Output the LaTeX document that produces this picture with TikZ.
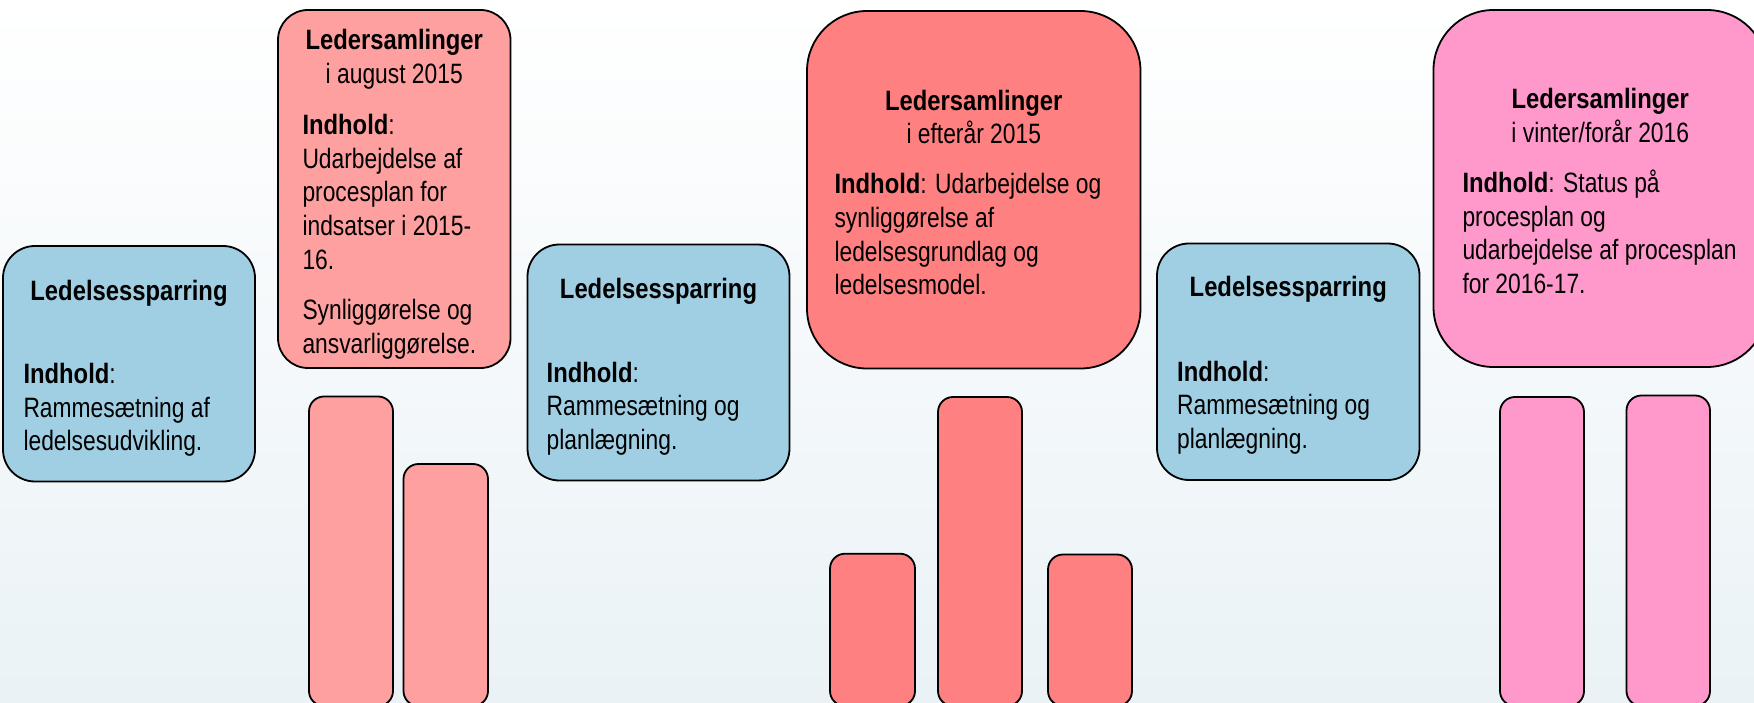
\documentclass[tikz,border=0pt]{standalone}
\usepackage{fontspec}
\setmainfont[UprightFeatures={FakeStretch=0.815},
             BoldFeatures={FakeStretch=0.85}]{Liberation Sans}
\usetikzlibrary{positioning}
\definecolor{BlaaBoks}{HTML}{A0CFE4}
\definecolor{LaksRoed}{HTML}{FFA0A0}
\definecolor{KlarRoed}{HTML}{FF8080}
\definecolor{Rosa}{HTML}{FF99CC}
\definecolor{BundBlaa}{HTML}{EAF2F6}

\begin{document}
\begin{tikzpicture}[x=1pt,y=-1pt,
    boks/.style={draw=black, line width=1.8pt, inner sep=0pt},
    soejle/.style={draw=black, line width=1.8pt, rounded corners=15pt},
    overskrift/.style={font=\fontsize{28}{33.6}\selectfont, anchor=base,
        align=center, inner sep=0pt},
    brodtekst/.style={font=\fontsize{28}{33.6}\selectfont, anchor=base west,
        align=left, inner sep=0pt}
]
% baggrund
\fill[top color=white, bottom color=BundBlaa] (0,0) rectangle (1754,703);
\useasboundingbox (0,0) rectangle (1754,703);

% ledelsessparring 1 (tekst placeres ved sidste linjes grundlinje)
\node[boks, fill=BlaaBoks, rounded corners=32pt,
      minimum width=252pt, minimum height=235.5pt] (sparring1) at (129,363.75) {};
\node[overskrift] (sparring1titel) at (129,301) {\textbf{Ledelsessparring}};
\node[brodtekst] (sparring1tekst) at (23.3,450.7)
    {\textbf{Indhold}:\\Rammesætning af\\ledelsesudvikling.};

% ledersamlinger august 2015
\node[boks, fill=LaksRoed, rounded corners=30pt,
      minimum width=232.5pt, minimum height=358pt] (samling1) at (394.25,189) {};
\node[overskrift] (samling1titel) at (394.25,83.6)
    {\textbf{Ledersamlinger}\\i august 2015};
\node[brodtekst] (samling1tekst) at (302.3,353.2)
    {\textbf{Indhold}:\\Udarbejdelse af\\procesplan for\\indsatser i 2015-\\16.\\[17pt]
     Synliggørelse og\\ansvarliggørelse.};
\draw[soejle, fill=LaksRoed] (309,396.5) rectangle (393,706);
\draw[soejle, fill=LaksRoed] (403.5,464) rectangle (488,706);

% ledelsessparring 2
\node[boks, fill=BlaaBoks, rounded corners=32pt,
      minimum width=262pt, minimum height=236pt] (sparring2) at (658.5,362.5) {};
\node[overskrift] (sparring2titel) at (658.5,299) {\textbf{Ledelsessparring}};
\node[brodtekst] (sparring2tekst) at (546.5,449.2)
    {\textbf{Indhold}:\\Rammesætning og\\planlægning.};

% ledersamlinger efteraar 2015
\node[boks, fill=KlarRoed, rounded corners=60pt,
      minimum width=333.5pt, minimum height=357.5pt] (samling2) at (973.75,189.75) {};
\node[overskrift] (samling2titel) at (973.75,144)
    {\textbf{Ledersamlinger}\\i efterår 2015};
\node[brodtekst] (samling2tekst) at (834.3,294.8)
    {\textbf{Indhold}: Udarbejdelse og\\synliggørelse af\\ledelsesgrundlag og\\ledelsesmodel.};
\draw[soejle, fill=KlarRoed] (830,553.7) rectangle (915,706);
\draw[soejle, fill=KlarRoed] (938,397) rectangle (1022,706);
\draw[soejle, fill=KlarRoed] (1048,554.5) rectangle (1132,706);

% ledelsessparring 3
\node[boks, fill=BlaaBoks, rounded corners=32pt,
      minimum width=262.5pt, minimum height=236.5pt] (sparring3) at (1288.25,361.75) {};
\node[overskrift] (sparring3titel) at (1288.25,297) {\textbf{Ledelsessparring}};
\node[brodtekst] (sparring3tekst) at (1177,448.2)
    {\textbf{Indhold}:\\Rammesætning og\\planlægning.};

% ledersamlinger vinter/foraar 2016
\node[boks, fill=Rosa, rounded corners=60pt,
      minimum width=333.5pt, minimum height=357pt] (samling3) at (1600.25,188.5) {};
\node[overskrift] (samling3titel) at (1600.25,142.2)
    {\textbf{Ledersamlinger}\\i vinter/forår 2016};
\node[brodtekst] (samling3tekst) at (1462.3,293.5)
    {\textbf{Indhold}: Status på\\procesplan og\\udarbejdelse af procesplan\\for 2016-17.};
\draw[soejle, fill=Rosa] (1500,397) rectangle (1584,706);
\draw[soejle, fill=Rosa] (1626.5,395.5) rectangle (1710,706);
\end{tikzpicture}
\end{document}
